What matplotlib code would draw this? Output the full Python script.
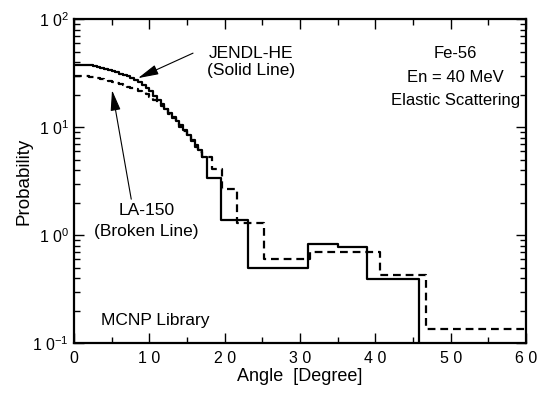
import numpy as np
import matplotlib.pyplot as plt

plt.rcParams['font.family'] = ['Liberation Sans', 'DejaVu Sans']
plt.rcParams['mathtext.fontset'] = 'custom'
plt.rcParams['mathtext.rm'] = 'Liberation Sans'

# bin edges [degree] and probability per bin
fine_edges = [0, 2] + list(np.arange(2.5, 17.01, 0.5))

jendl_edges = fine_edges + [17.7, 19.5, 23.1, 31.1, 35.0, 38.9, 45.8, 60]
jendl_vals = [37.5, 37.2, 36.5, 35.7, 35.1, 34.4, 33.7, 32.9, 32.1, 31.2, 30.4,
              29.5, 28.5, 27.4, 26.1, 24.7, 23.1, 21.4, 19.5, 17.7, 16.2,
              14.8, 13.5, 12.3, 11.3, 10.35, 9.44, 8.51, 7.62, 6.81, 6.10,
              5.27, 3.37, 1.38, 0.494, 0.826, 0.774, 0.392, 1e-3]

la150_edges = fine_edges + [18.3, 19.6, 21.6, 25.2, 31.3, 40.6, 46.7, 60]
la150_vals = [29.9, 29.4, 29.0, 28.5, 28.1, 27.5, 26.9, 26.3, 25.6, 24.9, 24.3,
              23.6, 22.9, 22.3, 21.7, 21.0, 20.2, 19.1, 17.8, 16.8, 15.8,
              14.6, 13.3, 12.2, 11.1, 10.1, 9.2, 8.3, 7.4, 6.6, 5.9,
              5.3, 4.08, 2.67, 1.29, 0.60, 0.697, 0.426, 0.135]

xticks = [0, 10, 20, 30, 40, 50, 60]
xticklabels = ['0', '1 0', '2 0', '3 0', '4 0', '5 0', '6 0']
yticks = [0.1, 1, 10, 100]
yticklabels = ['1 0$^{-1}$', '1 0$^{0}$', '1 0$^{1}$', '1 0$^{2}$']

fig = plt.figure(figsize=(5.48, 3.98), dpi=100)
ax = fig.add_axes([0.135, 0.138, 0.825, 0.814])

ax.step(jendl_edges, jendl_vals + [jendl_vals[-1]], where='post',
        color='black', lw=1.6)
ax.step(la150_edges, la150_vals + [la150_vals[-1]], where='post',
        color='black', lw=1.6, dashes=(3.5, 2.2))

ax.set_yscale('log')
ax.set_xlim(0, 60)
ax.set_ylim(0.1, 100)
ax.set_xticks(xticks)
ax.set_xticklabels(xticklabels)
ax.set_xticks(np.arange(5, 60, 10), minor=True)
ax.set_yticks(yticks)
ax.set_yticklabels(yticklabels)
ax.tick_params(which='both', direction='in', top=True, right=True, width=1,
               labelsize=11.5)
ax.tick_params(which='major', length=7)
ax.tick_params(which='minor', length=4)
ax.tick_params(axis='x', which='minor', top=True, length=4)
ax.tick_params(axis='x', pad=6)
for s in ax.spines.values():
    s.set_linewidth(1.6)

ax.set_xlabel('Angle  [Degree]', fontsize=13, labelpad=1)
ax.set_ylabel('Probability', fontsize=13.5, labelpad=0)

fs = 12.5
arrow = dict(arrowstyle='-|>,head_length=0.9,head_width=0.22', color='black',
             lw=0.8, mutation_scale=14, shrinkA=0, shrinkB=0)

ax.annotate('', xy=(8.5, 28.4), xytext=(15.8, 48.4), arrowprops=arrow)
ax.text(23.5, 48.0, 'JENDL-HE', ha='center', va='center', fontsize=fs)
ax.text(23.5, 33.2, '(Solid Line)', ha='center', va='center', fontsize=fs)

ax.annotate('', xy=(5.05, 22.0), xytext=(7.6, 2.15), arrowprops=arrow)
ax.text(9.6, 1.70, 'LA-150', ha='center', va='center', fontsize=fs)
ax.text(9.6, 1.08, '(Broken Line)', ha='center', va='center', fontsize=fs)

ax.text(50.6, 48.5, 'Fe-56', ha='center', va='center', fontsize=12)
ax.text(50.6, 29.0, 'En = 40 MeV', ha='center', va='center', fontsize=12)
ax.text(50.6, 17.8, 'Elastic Scattering', ha='center', va='center', fontsize=12)
ax.text(3.6, 0.163, 'MCNP Library', ha='left', va='center', fontsize=fs)

fig.savefig('out.png', dpi=100)
